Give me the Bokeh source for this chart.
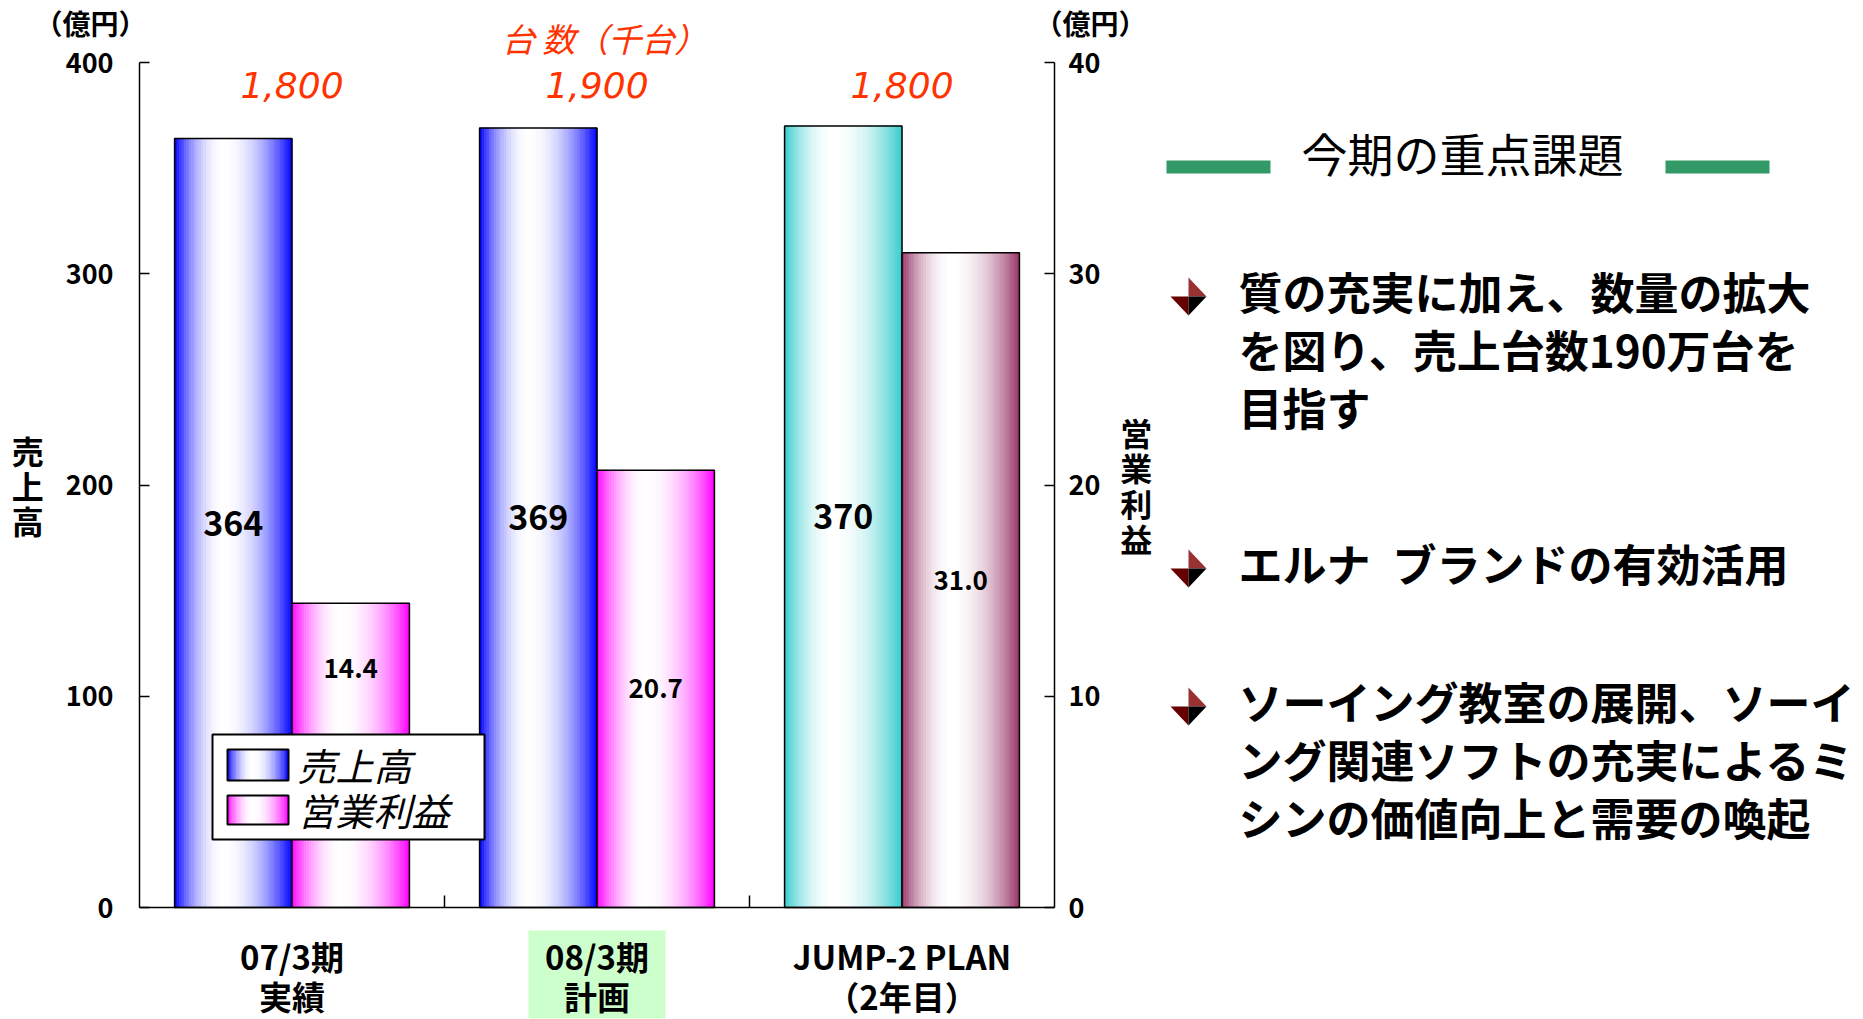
import numpy as np
from bokeh.plotting import figure
from bokeh.models import Range1d, LinearAxis, FixedTicker, ColumnDataSource
from bokeh.layouts import row
from bokeh.embed import file_html
from bokeh.resources import INLINE
from bokeh.core.properties import value

# ---- data -------------------------------------------------------------
categories = ["07/3期\n実績", "08/3期\n計画", "JUMP-2 PLAN\n（2年目）"]
sales = [364, 369, 370]            # 売上高（億円）
profit = [14.4, 20.7, 31.0]        # 営業利益（億円）
units_k = [1800, 1900, 1800]       # 台数（千台）
sales_ticks = [0, 100, 200, 300, 400]
profit_ticks = [0, 10, 20, 30, 40]
highlight_category = 1

sales_edge = ["#0000FF", "#0000FF", "#33CCCC"]
profit_edge = ["#FF00FF", "#FF00FF", "#993366"]

issue_title = "今期の重点課題"
issues = [
    ["質の充実に加え、数量の拡大", "を図り、売上台数190万台を", "目指す"],
    ["エルナ\u2002ブランドの有効活用"],
    ["ソーイング教室の展開、ソーイ", "ング関連ソフトの充実によるミ", "シンの価値向上と需要の喚起"],
]

# ---- page geometry (pixels) ------------------------------------------
H = 1019
W_PAGE = 1863
W_CHART = 1160
PANEL_X0 = 1150                          # page x where the issues panel coordinates start
FL, FR, FT, FB = 139, 1054, 62, 907     # where the axes sit on the page
N_CAT = len(categories)
BAR_W = 0.385
JP = "Noto Sans CJK JP"
BASE = dict(output_backend="svg", toolbar_location=None, frame_align=False, min_border=0,
            background_fill_color="white", border_fill_color="white", outline_line_color=None)
SCALE = profit_ticks[-1] / sales_ticks[-1]


def dx(px):
    return (px - FL) / (FR - FL) * N_CAT


def dy(py):
    return (FB - py) / (FB - FT) * sales_ticks[-1]


def shades(edge, n=48, peak=0.42):
    r, g, b = (int(edge[i:i + 2], 16) for i in (1, 3, 5))
    out = []
    for k in range(n):
        u = (k + 0.5) / n
        d = (u - peak) / peak if u < peak else (u - peak) / (1 - peak)
        t = 1 - d * d
        out.append("#%02x%02x%02x" % tuple(int(round(c + (255 - c) * t)) for c in (r, g, b)))
    return out


def gradient_box(fig, left, right, bottom, top, edge, outline=1.5, **kw):
    n = 48
    xs = np.linspace(left, right, n + 1)
    src = ColumnDataSource(dict(left=xs[:-1], right=xs[1:], bottom=[bottom] * n,
                                top=[top] * n, color=shades(edge, n)))
    fig.quad(left="left", right="right", bottom="bottom", top="top", source=src,
             fill_color="color", line_color="color", line_width=0.6, **kw)
    fig.quad(left=[left], right=[right], bottom=[bottom], top=[top],
             fill_color=None, line_color="black", line_width=outline, **kw)


# ---- bar chart (axes pinned inside a full-canvas frame) ---------------
p = figure(width=W_CHART, height=H,
           x_range=Range1d(dx(0), dx(W_CHART)), y_range=Range1d(dy(H), dy(0)), **BASE)
p.extra_y_ranges = {"profit": Range1d(dy(H) * SCALE, dy(0) * SCALE)}
p.xgrid.grid_line_color = None
p.ygrid.grid_line_color = None

# highlight behind the plan-year category name
hl_c = highlight_category + 0.5
p.quad(left=[hl_c - 0.2246], right=[hl_c + 0.2246], top=[dy(930)], bottom=[dy(1018)],
       fill_color="#CCFFCC", line_color=None)

for i in range(N_CAT):
    c = i + 0.5
    gradient_box(p, c - BAR_W, c, 0, sales[i], sales_edge[i])
    gradient_box(p, c, c + BAR_W, 0, profit[i], profit_edge[i], y_range_name="profit")

# legend box (drawn over the first group)
LEG = dict(left=dx(212), right=dx(484), bottom=dy(839), top=dy(734))

# value labels inside bars; a label hidden by the legend moves to the bar's visible part
p.text(x=[i + 0.5 - BAR_W / 2 for i in range(N_CAT)], y=[v / 2 for v in sales],
       text=[str(v) for v in sales], text_font=value(JP), text_font_style="bold",
       text_font_size="34px", text_align="center", text_baseline="middle", text_color="black")
profit_x = [i + 0.5 + BAR_W / 2 for i in range(N_CAT)]
leg_top_profit = LEG["top"] * SCALE
profit_y = [(v + leg_top_profit) / 2 if (LEG["left"] < x < LEG["right"] and v / 2 < leg_top_profit)
            else v / 2 for x, v in zip(profit_x, profit)]
p.text(x=profit_x, y=profit_y,
       text=[f"{v:.1f}" for v in profit], text_font=value(JP), text_font_style="bold",
       text_font_size="26px", text_align="center", text_baseline="middle", text_color="black",
       y_range_name="profit")

# unit volumes above each group
p.text(x=[dx(604)], y=[dy(37)], text=["台 数（千台）"], text_font=value(JP),
       text_font_style="italic", text_font_size="33px", text_align="center",
       text_baseline="middle", text_color="#FF3300")
p.text(x=[i + 0.5 for i in range(N_CAT)], y=[dy(84)] * N_CAT,
       text=[f"{v:,}" for v in units_k], text_font=value("DejaVu Sans"), text_font_style="italic",
       text_font_size="36px", text_align="center", text_baseline="middle", text_color="#FF3300")

# money units over both value axes
p.text(x=[dx(90), dx(1090)], y=[dy(22), dy(22)], text=["（億円）", "（億円）"],
       text_font=value(JP), text_font_style="bold", text_font_size="28px",
       text_align="center", text_baseline="middle", text_color="black")

p.quad(left=[LEG["left"]], right=[LEG["right"]], bottom=[LEG["bottom"]], top=[LEG["top"]],
       fill_color="white", line_color="black", line_width=2)
gradient_box(p, dx(227), dx(288), dy(780), dy(749), sales_edge[0], outline=2)
gradient_box(p, dx(227), dx(288), dy(824), dy(795), profit_edge[0], outline=2)
p.text(x=[dx(297), dx(297)], y=[dy(764), dy(809)], text=["売上高", "営業利益"],
       text_font=value(JP), text_font_style="italic", text_font_size="38px",
       text_align="left", text_baseline="middle", text_color="black")

# value axes
left_axis = p.yaxis[0]
left_axis.ticker = FixedTicker(ticks=sales_ticks)
left_axis.fixed_location = 0
left_axis.bounds = (sales_ticks[0], sales_ticks[-1])
right_axis = LinearAxis(y_range_name="profit", ticker=FixedTicker(ticks=profit_ticks),
                        fixed_location=N_CAT, bounds=(profit_ticks[0], profit_ticks[-1]))
p.add_layout(right_axis, "right")
for ax, title in ((left_axis, "売上高"), (right_axis, "営業利益")):
    ax.major_tick_in = 10
    ax.major_tick_out = 0
    ax.minor_tick_line_color = None
    ax.axis_line_color = "black"
    ax.axis_line_width = 1.5
    ax.major_tick_line_color = "black"
    ax.major_tick_line_width = 1.5
    ax.major_label_text_font = JP
    ax.major_label_text_font_style = "bold"
    ax.major_label_text_font_size = "27px"
    ax.major_label_text_color = "black"
    ax.axis_label = "\n".join(title)
    ax.axis_label_orientation = "horizontal"
    ax.axis_label_text_font = JP
    ax.axis_label_text_font_style = "bold"
    ax.axis_label_text_font_size = "32px"
    ax.axis_label_text_color = "black"
    ax.axis_label_text_line_height = 0.77
left_axis.major_label_standoff = 26
left_axis.axis_label_standoff = 19
right_axis.major_label_standoff = 14
right_axis.axis_label_standoff = 17

# category axis
xa = p.xaxis[0]
xa.fixed_location = 0
xa.bounds = (0, N_CAT)
xa.ticker = FixedTicker(ticks=[i + 0.5 for i in range(N_CAT)], minor_ticks=list(range(1, N_CAT)))
xa.major_label_overrides = {i + 0.5: categories[i] for i in range(N_CAT)}
xa.major_label_standoff = 18
xa.major_label_text_font = JP
xa.major_label_text_font_style = "bold"
xa.major_label_text_font_size = "33px"
xa.major_label_text_line_height = 0.85
xa.major_label_text_color = "black"
xa.major_tick_line_color = None
xa.minor_tick_in = 12
xa.minor_tick_out = 0
xa.minor_tick_line_color = "black"
xa.minor_tick_line_width = 1.5
xa.axis_line_color = "black"
xa.axis_line_width = 1.5

# ---- issues panel (coordinates in pixels from PANEL_X0) ---------------
q = figure(width=W_PAGE - W_CHART, height=H,
           x_range=Range1d(W_CHART - PANEL_X0, W_PAGE - PANEL_X0), y_range=Range1d(H, 0),
           x_axis_type=None, y_axis_type=None, **BASE)
q.xgrid.grid_line_color = None
q.ygrid.grid_line_color = None
q.quad(left=[16, 515], right=[120, 619], top=[160, 160], bottom=[173, 173],
       fill_color="#339966", line_color=None)
q.text(x=[312], y=[151], text=[issue_title], text_font=value(JP), text_font_size="46px",
       text_align="center", text_baseline="middle", text_color="black")

bullet_y = [296, 568, 706]
line_gap = 58
for b, lines in enumerate(issues):
    cx, cy, hw, hh = 38, bullet_y[b], 18, 19
    tp, rt, bm, lf = (cx, cy - hh), (cx + hw, cy), (cx, cy + hh), (cx - hw, cy)
    ctr = (cx, cy)
    tris = [(tp, rt, ctr), (lf, ctr, bm), (ctr, rt, bm)]
    q.patches(xs=[[pt[0] for pt in t] for t in tris], ys=[[pt[1] for pt in t] for t in tris],
              fill_color=["#993333", "#660000", "#000000"], line_color=None)
    q.text(x=[88] * len(lines), y=[bullet_y[b] - 6 + line_gap * k for k in range(len(lines))],
           text=lines, text_font=value(JP), text_font_style="bold", text_font_size="44px",
           text_align="left", text_baseline="middle", text_color="black")

layout = row(p, q)
open("out.html", "w").write(file_html(layout, INLINE))
